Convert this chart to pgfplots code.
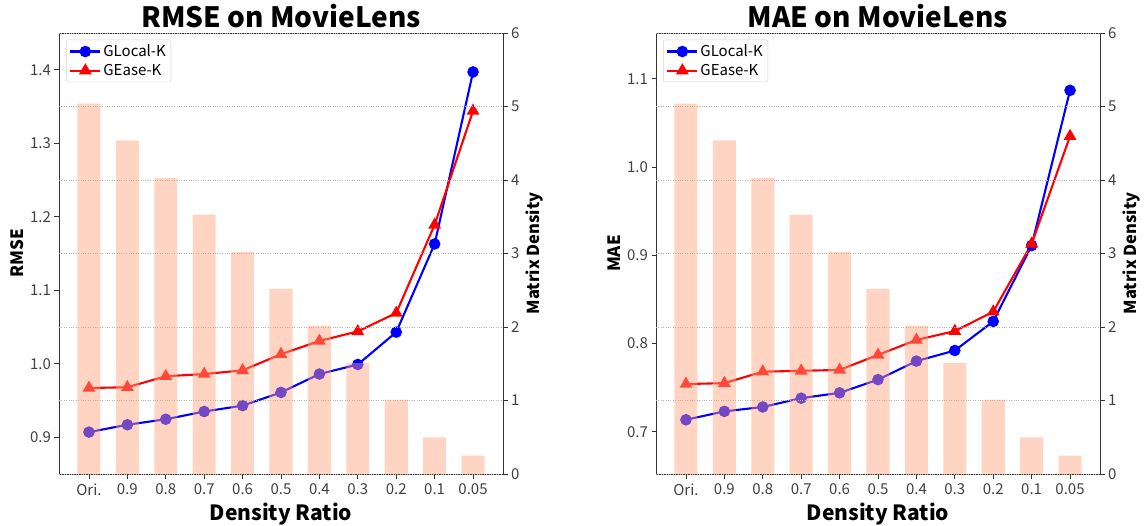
\documentclass[border=0pt]{standalone}
\usepackage{fontspec}
\setmainfont{Noto Sans CJK KR}
\usepackage{pgfplots}
\pgfplotsset{compat=1.18}
\definecolor{barc}{HTML}{FFA07A}
\definecolor{framec}{HTML}{333333}
\pgfplotsset{
  base/.style={scale only axis, width=444pt, height=441pt, xmin=-0.78, xmax=10.78,
    tick label style={font=\fontsize{15}{17}\selectfont, color=black!75},
    /pgf/number format/assume math mode=true,
    axis line style={framec, line width=0.9pt},
    major tick length=4.5pt, tick style={framec, line width=0.8pt}, tick align=outside,
    label style={font=\bfseries\fontsize{16}{19}\selectfont},
  },
  left/.style={base, xtick={0,...,10},
    xticklabels={Ori.,0.9,0.8,0.7,0.6,0.5,0.4,0.3,0.2,0.1,0.05},
    xtick pos=bottom, ytick pos=left,
    xticklabel style={yshift=-1.5pt},
    yticklabel style={/pgf/number format/.cd, fixed, fixed zerofill, precision=1},
    xlabel style={font=\bfseries\fontsize{21}{24}\selectfont, yshift=-1pt},
    ylabel style={font=\bfseries\fontsize{17}{20}\selectfont},
    title style={font=\bfseries\fontsize{28}{32}\selectfont, yshift=-4pt},
    legend style={at={(0.016,0.985)}, anchor=north west, draw=gray!35, rounded corners=2pt,
      font=\fontsize{15}{17}\selectfont, inner sep=3pt, row sep=2pt},
    legend cell align=left,
    legend image code/.code={\draw[mark repeat=2, mark phase=2] plot coordinates {(0pt,0pt) (15pt,0pt) (30pt,0pt)};},
  },
  right/.style={base, ymin=0, ymax=6, axis y line*=right, axis x line=none,
    ytick={0,...,6}, ymajorgrids, grid style={dotted, gray!60, line width=0.8pt},
    ylabel style={font=\bfseries\fontsize{16.5}{19}\selectfont},
  },
  glocal/.style={blue, line width=2.1pt, mark=*, mark size=4.7pt, mark options={solid}},
  gease/.style={red, line width=2.1pt, mark=triangle*, mark size=5.3pt, mark options={solid}},
  bars/.style={ybar, bar width=0.6, fill=barc, fill opacity=0.45, draw=none, forget plot},
}
\begin{document}
\begin{tikzpicture}
% ---------------- RMSE ----------------
\begin{axis}[left, at={(0,0)}, ymin=0.85, ymax=1.45, ytick={0.9,1.0,1.1,1.2,1.3,1.4},
  xlabel={Density Ratio}, ylabel={RMSE}, title={RMSE on MovieLens}]
\addplot[glocal] coordinates {(0,0.907) (1,0.917) (2,0.9245) (3,0.935) (4,0.943) (5,0.961) (6,0.986) (7,0.999) (8,1.043) (9,1.163) (10,1.397)};
\addlegendentry{GLocal-K}
\addplot[gease] coordinates {(0,0.967) (1,0.968) (2,0.983) (3,0.986) (4,0.991) (5,1.013) (6,1.031) (7,1.044) (8,1.069) (9,1.189) (10,1.344)};
\addlegendentry{GEase-K}
\end{axis}
\begin{axis}[right, at={(0,0)}, ylabel={Matrix Density}]
\addplot[bars] coordinates {(0,5.04) (1,4.54) (2,4.03) (3,3.53) (4,3.02) (5,2.52) (6,2.02) (7,1.51) (8,1.01) (9,0.50) (10,0.25)};
\end{axis}
% ---------------- MAE ----------------
\begin{axis}[left, at={(597pt,0)}, ymin=0.652, ymax=1.152, ytick={0.7,0.8,0.9,1.0,1.1},
  xlabel={Density Ratio}, ylabel={MAE}, title={MAE on MovieLens}]
\addplot[glocal] coordinates {(0,0.7135) (1,0.723) (2,0.728) (3,0.738) (4,0.744) (5,0.759) (6,0.780) (7,0.792) (8,0.825) (9,0.911) (10,1.087)};
\addlegendentry{GLocal-K}
\addplot[gease] coordinates {(0,0.754) (1,0.755) (2,0.768) (3,0.769) (4,0.770) (5,0.787) (6,0.804) (7,0.814) (8,0.836) (9,0.913) (10,1.035)};
\addlegendentry{GEase-K}
\end{axis}
\begin{axis}[right, at={(597pt,0)}, ylabel={Matrix Density}]
\addplot[bars] coordinates {(0,5.04) (1,4.54) (2,4.03) (3,3.53) (4,3.02) (5,2.52) (6,2.02) (7,1.51) (8,1.01) (9,0.50) (10,0.25)};
\end{axis}
\pgfresetboundingbox
\useasboundingbox (-59pt,-51pt) rectangle (1086pt,474pt);
\end{tikzpicture}
\end{document}
